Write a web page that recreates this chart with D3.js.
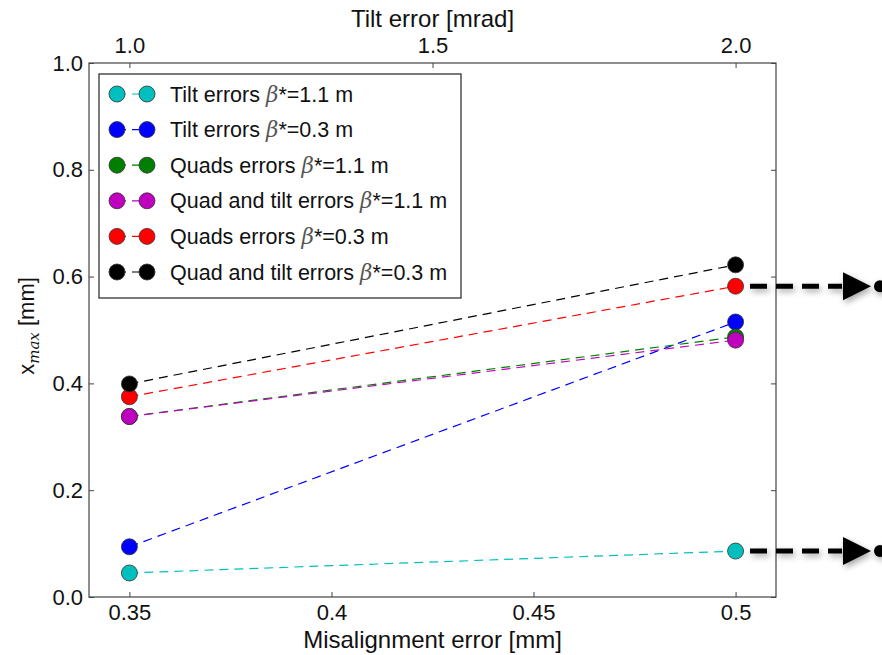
<!DOCTYPE html>
<html>
<head>
<meta charset="utf-8">
<script src="https://cdn.jsdelivr.net/npm/d3@7"></script>
<style>
  body { margin: 0; background: #fff; }
  svg { font-family: "Liberation Sans", Arial, sans-serif; }
</style>
</head>
<body>
<svg id="chart" width="882" height="655"></svg>
<script>
// misalignment error values (bottom axis)
const misalign = [0.35, 0.5];
const xTicks = [0.35, 0.4, 0.45, 0.5];
const tiltTicks = [1.0, 1.5, 2.0];
const yTicks = [0.0, 0.2, 0.4, 0.6, 0.8, 1.0];

const seriesNames = [
  "Tilt errors|1.1",
  "Tilt errors|0.3",
  "Quads errors|1.1",
  "Quad and tilt errors|1.1",
  "Quads errors|0.3",
  "Quad and tilt errors|0.3"
];
const seriesColors = ["#00bfbf", "#0000ff", "#007f00", "#bf00bf", "#ff0000", "#000000"];
const tiltB11 = [0.045, 0.086];
const tiltB03 = [0.094, 0.515];
const quadB11 = [0.338, 0.487];
const bothB11 = [0.338, 0.481];
const quadB03 = [0.375, 0.582];
const bothB03 = [0.399, 0.622];
const seriesValues = [tiltB11, tiltB03, quadB11, bothB11, quadB03, bothB03];

// arrows point at these series (outside the axes)
const arrowTargets = [quadB03[1], tiltB11[1]];

const margin = { top: 63, right: 106, bottom: 58, left: 89 };
const W = 882, H = 655;
const iw = W - margin.left - margin.right;
const ih = H - margin.top - margin.bottom;

const svg = d3.select("#chart");
const defs = svg.append("defs");
const f = defs.append("filter").attr("id", "shadow")
  .attr("x", "-20%").attr("y", "-60%").attr("width", "140%").attr("height", "220%");
f.append("feDropShadow").attr("dx", 2).attr("dy", 3).attr("stdDeviation", 3)
  .attr("flood-color", "#000").attr("flood-opacity", 0.35);

const g = svg.append("g").attr("transform", `translate(${margin.left},${margin.top})`);

const x = d3.scaleLinear().domain([0.34, 0.51]).range([0, iw]);
const xTop = d3.scaleLinear().domain([1 - 0.2 / 3, 2 + 0.2 / 3]).range([0, iw]);
const y = d3.scaleLinear().domain([0, 1]).range([ih, 0]);

const axisColor = "#444";
const tickFont = 22;
const titleFont = 24;
const fmt1 = d3.format(".1f");

function styleAxis(sel) {
  sel.select(".domain").remove();
  sel.selectAll(".tick line").attr("stroke", axisColor);
  sel.selectAll(".tick text").attr("fill", "#111").attr("font-size", tickFont);
}

// bottom axis
g.append("g").attr("transform", `translate(0,${ih})`)
  .call(d3.axisBottom(x).tickValues(xTicks).tickFormat(d => String(d)).tickSizeInner(-5).tickPadding(7))
  .call(styleAxis);
// top axis (tilt)
g.append("g")
  .call(d3.axisTop(xTop).tickValues(tiltTicks).tickFormat(fmt1).tickSizeInner(-5).tickPadding(10))
  .call(styleAxis);
// left axis
g.append("g")
  .call(d3.axisLeft(y).tickValues(yTicks).tickFormat(fmt1).tickSizeInner(-5).tickPadding(6))
  .call(styleAxis);
// right ticks
g.append("g").attr("transform", `translate(${iw},0)`)
  .call(d3.axisRight(y).tickValues(yTicks).tickFormat("").tickSizeInner(-5))
  .call(styleAxis);

g.append("rect").attr("width", iw).attr("height", ih)
  .attr("fill", "none").attr("stroke", axisColor).attr("stroke-width", 1.2);

// series lines
const line = d3.line().x((d, i) => x(misalign[i])).y(d => y(d));
seriesValues.forEach((vals, k) => {
  g.append("path").datum(vals).attr("d", line)
    .attr("fill", "none").attr("stroke", seriesColors[k])
    .attr("stroke-width", 1.2).attr("stroke-dasharray", "9,6");
});
seriesValues.forEach((vals, k) => {
  g.selectAll(null).data(vals).join("circle")
    .attr("cx", (d, i) => x(misalign[i])).attr("cy", d => y(d)).attr("r", 8)
    .attr("fill", seriesColors[k]).attr("stroke", "#333").attr("stroke-width", 0.8);
});

// legend
const lg = g.append("g").attr("transform", "translate(10,11)");
lg.append("rect").attr("width", 362).attr("height", 224)
  .attr("fill", "#fff").attr("stroke", "#222").attr("stroke-width", 1.2);
seriesNames.forEach((name, k) => {
  const [label, beta] = name.split("|");
  const row = lg.append("g").attr("transform", `translate(0,${20 + k * 35.6})`);
  row.append("line").attr("x1", 18).attr("x2", 48).attr("stroke", seriesColors[k])
    .attr("stroke-width", 1.2).attr("stroke-dasharray", "9,6");
  [18, 48].forEach(cx => row.append("circle").attr("cx", cx).attr("r", 8)
    .attr("fill", seriesColors[k]).attr("stroke", "#333").attr("stroke-width", 0.8));
  const t = row.append("text").attr("x", 71).attr("dy", "0.35em").attr("font-size", 21.5).attr("fill", "#111");
  t.append("tspan").text(label + " ");
  t.append("tspan").attr("font-family", "DejaVu Serif").attr("font-style", "italic").attr("fill", "#555").text("β");
  t.append("tspan").text("*=" + beta + " m");
});

// axis titles
svg.append("text").attr("x", margin.left + iw / 2).attr("y", 648)
  .attr("text-anchor", "middle").attr("font-size", titleFont).attr("fill", "#111")
  .text("Misalignment error [mm]");
svg.append("text").attr("x", margin.left + iw / 2).attr("y", 27)
  .attr("text-anchor", "middle").attr("font-size", titleFont).attr("fill", "#111")
  .text("Tilt error [mrad]");
const yl = svg.append("text").attr("transform", `translate(34,${margin.top + ih / 2 - 4}) rotate(-90)`)
  .attr("text-anchor", "middle").attr("font-size", 22).attr("fill", "#111");
yl.append("tspan").text("x");
yl.append("tspan").attr("font-size", 15).attr("font-style", "italic")
  .attr("font-family", "DejaVu Serif").attr("dy", 5).text("max");
yl.append("tspan").attr("dy", -5).text(" [mm]");

// arrows outside the axes
const ag = svg.append("g").attr("filter", "url(#shadow)");
arrowTargets.forEach(v => {
  const yy = margin.top + y(v);
  ag.append("line").attr("x1", 750).attr("x2", 842).attr("y1", yy).attr("y2", yy)
    .attr("stroke", "#000").attr("stroke-width", 5).attr("stroke-dasharray", "17,9");
  ag.append("path").attr("d", `M843,${yy - 14}L871,${yy}L843,${yy + 14}Z`).attr("fill", "#000");
  ag.append("circle").attr("cx", 880).attr("cy", yy).attr("r", 6).attr("fill", "#000");
});
</script>
</body>
</html>
